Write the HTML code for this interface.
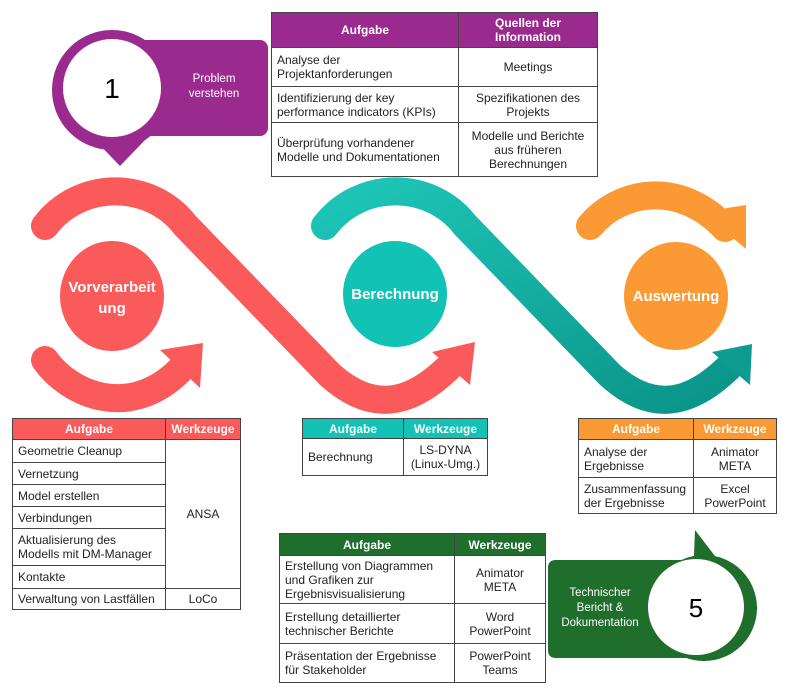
<!DOCTYPE html>
<html><head><meta charset="utf-8"><style>
body{margin:0;width:789px;height:691px;background:#fff;overflow:hidden;font-family:"Liberation Sans",sans-serif;position:relative}
table{position:absolute;border-collapse:collapse;font-size:12px;color:#222;line-height:14px}
td,th{border:1px solid #444;padding:2px 5px;vertical-align:middle}
th{color:#fff;font-weight:bold;text-align:center}
td.c{text-align:center}
</style></head><body>
<svg width="789" height="691" style="position:absolute;left:0;top:0">
<defs><linearGradient id="tg" x1="0" y1="0" x2="1" y2="1"><stop offset="0" stop-color="#1ec6b8"/><stop offset="1" stop-color="#0a9488"/></linearGradient></defs>
<!-- purple badge -->
<rect x="110" y="40" width="158" height="96" rx="8" fill="#9b2a8e"/>
<polygon points="95,140 145,140 120,166" fill="#9b2a8e"/>
<circle cx="112" cy="90" r="60" fill="#9b2a8e"/>
<circle cx="112" cy="88" r="49" fill="#fff"/>
<text x="112" y="98" font-size="28" text-anchor="middle" font-family="Liberation Sans">1</text>
<text x="214" y="82" font-size="11.5" fill="#fff" text-anchor="middle">Problem</text>
<text x="214" y="97" font-size="11.5" fill="#fff" text-anchor="middle">verstehen</text>
<!-- waves -->
<g fill="none" stroke-linecap="round" stroke-width="28">
<path d="M45,226 C80,180 150,180 185,225 L330,375 C380,420 420,395 448,368" stroke="#fb5a5a"/>
<path d="M45,360 C70,395 130,420 180,370" stroke="#fb5a5a"/>
<path d="M325,226 C360,180 430,180 465,225 L610,375 C660,420 700,395 728,368" stroke="url(#tg)"/>
<path d="M590,226 C620,190 680,180 725,228" stroke="#fb9a35"/>
</g>
<polygon points="432,352 475,342 470,385" fill="#fb5a5a"/>
<polygon points="160,350 203,343 200,388" fill="#fb5a5a"/>
<polygon points="712,352 752,344 750,385" fill="#0d9c8f"/>
<polygon points="702,212 746,205 746,249" fill="#fb9a35"/>
<ellipse cx="112" cy="296" rx="52" ry="55" fill="#fb5a5a"/>
<ellipse cx="395" cy="294" rx="52" ry="53" fill="#12c3b5"/>
<ellipse cx="676" cy="296" rx="52" ry="54" fill="#fb9a35"/>
<g font-weight="bold" fill="#fff" font-size="15" text-anchor="middle">
<text x="112" y="292">Vorverarbeit</text><text x="112" y="313">ung</text>
<text x="395" y="299">Berechnung</text>
<text x="676" y="301">Auswertung</text>
</g>
<!-- green badge -->
<path d="M695,530 L718,560 L556,560 Q548,560 548,568 L548,650 Q548,658 556,658 L690,658 Z" fill="#1f6e2c"/>
<circle cx="704" cy="608" r="53" fill="#1f6e2c"/>
<circle cx="696" cy="607" r="48" fill="#fff"/>
<text x="696" y="617" font-size="26" text-anchor="middle">5</text>
<g fill="#fff" font-size="11.5" text-anchor="middle"><text x="600" y="596">Technischer</text><text x="600" y="611">Bericht &amp;</text><text x="600" y="626">Dokumentation</text></g>
</svg>

<table style="left:271px;top:12px;width:327px">
<tr style="height:35px;background:#9b2a8e"><th style="width:176px">Aufgabe</th><th>Quellen der<br>Information</th></tr>
<tr style="height:39px"><td>Analyse der<br>Projektanforderungen</td><td class="c">Meetings</td></tr>
<tr style="height:36px"><td>Identifizierung der key<br>performance indicators (KPIs)</td><td class="c">Spezifikationen des<br>Projekts</td></tr>
<tr style="height:54px"><td>Überprüfung vorhandener<br>Modelle und Dokumentationen</td><td class="c">Modelle und Berichte<br>aus früheren<br>Berechnungen</td></tr>
</table>

<table style="left:12px;top:418px;width:229px">
<tr style="height:21px;background:#fb5a5a"><th style="width:142px">Aufgabe</th><th>Werkzeuge</th></tr>
<tr style="height:23px"><td>Geometrie Cleanup</td><td class="c" rowspan="6">ANSA</td></tr>
<tr style="height:22px"><td>Vernetzung</td></tr>
<tr style="height:22px"><td>Model erstellen</td></tr>
<tr style="height:22px"><td>Verbindungen</td></tr>
<tr style="height:37px"><td>Aktualisierung des<br>Modells mit DM-Manager</td></tr>
<tr style="height:23px"><td>Kontakte</td></tr>
<tr style="height:21px"><td>Verwaltung von Lastfällen</td><td class="c">LoCo</td></tr>
</table>

<table style="left:302px;top:418px;width:186px">
<tr style="height:20px;background:#12c3b5"><th style="width:90px">Aufgabe</th><th>Werkzeuge</th></tr>
<tr style="height:37px"><td>Berechnung</td><td class="c">LS-DYNA<br>(Linux-Umg.)</td></tr>
</table>

<table style="left:578px;top:418px;width:199px">
<tr style="height:21px;background:#fb9a35"><th style="width:104px">Aufgabe</th><th>Werkzeuge</th></tr>
<tr style="height:38px"><td>Analyse der<br>Ergebnisse</td><td class="c">Animator<br>META</td></tr>
<tr style="height:36px"><td>Zusammenfassung<br>der Ergebnisse</td><td class="c">Excel<br>PowerPoint</td></tr>
</table>

<table style="left:279px;top:533px;width:267px">
<tr style="height:22px;background:#1f6e2c"><th style="width:164px">Aufgabe</th><th>Werkzeuge</th></tr>
<tr style="height:48px"><td>Erstellung von Diagrammen<br>und Grafiken zur<br>Ergebnisvisualisierung</td><td class="c">Animator<br>META</td></tr>
<tr style="height:40px"><td>Erstellung detaillierter<br>technischer Berichte</td><td class="c">Word<br>PowerPoint</td></tr>
<tr style="height:39px"><td>Präsentation der Ergebnisse<br>für Stakeholder</td><td class="c">PowerPoint<br>Teams</td></tr>
</table>
</body></html>
